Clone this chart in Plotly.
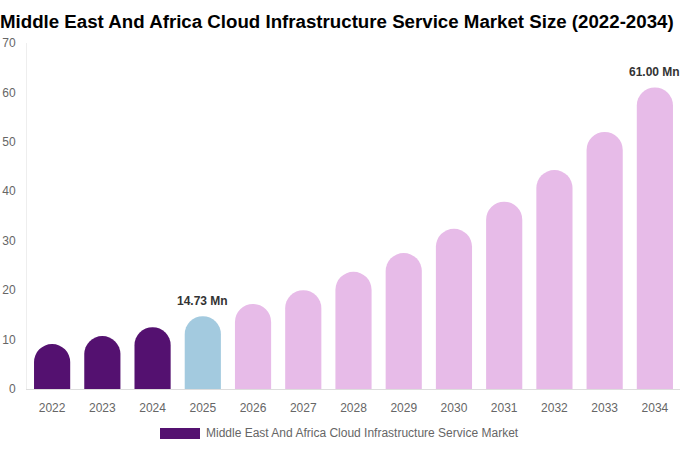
import plotly.graph_objects as go

# market size by year (USD Mn)
years = ["2022", "2023", "2024", "2025", "2026", "2027", "2028",
         "2029", "2030", "2031", "2032", "2033", "2034"]
values = [9.1, 10.7, 12.5, 14.73, 17.2, 20.0, 23.7, 27.5, 32.4, 37.9, 44.3, 52.0, 61.0]
bar_colors = ["#541170"] * 3 + ["#a3cadf"] + ["#e7bbe8"] * 9
label_years = ["2025", "2034"]
label_texts = ["14.73 Mn", "61.00 Mn"]
series_name = "Middle East And Africa Cloud Infrastructure Service Market"

font = "Liberation Sans, Arial, sans-serif"

fig = go.Figure()
fig.add_trace(go.Bar(
    x=years, y=values, name=series_name,
    marker=dict(color=bar_colors, cornerradius=18, line=dict(width=0)),
    showlegend=False,
))

# value labels above 2025 and 2034 (category index, numeric-looking names get read as indices)
for yr, txt in zip(label_years, label_texts):
    i = years.index(yr)
    fig.add_annotation(x=i, y=values[i], text="<b>" + txt + "</b>",
                       showarrow=False, yanchor="bottom", yshift=6,
                       font=dict(family=font, size=12, color="#333333"))

# custom legend: wide swatch + text
fig.add_shape(type="rect", xref="paper", yref="paper",
              x0=(160 - 27) / 653, x1=(200 - 27) / 653,
              y0=-(439 - 389) / 346, y1=-(428 - 389) / 346,
              fillcolor="#541170", line=dict(width=0))
fig.add_annotation(xref="paper", yref="paper", x=(204 - 27) / 653, y=-(433 - 389) / 346,
                   xanchor="left", yanchor="middle", showarrow=False, text=series_name,
                   font=dict(family=font, size=12, color="#666666"))

fig.update_layout(
    width=680, height=450,
    margin=dict(l=27, r=0, t=43, b=61),
    paper_bgcolor="white", plot_bgcolor="white",
    bargap=0.28,
    title=dict(text="<b>Middle East And Africa Cloud Infrastructure Service Market Size (2022-2034)</b>",
               x=0, xref="container", xanchor="left",
               y=1 - 21 / 450, yref="container", yanchor="middle",
               font=dict(family=font, size=18.7, color="#000000")),
    font=dict(family=font, size=12, color="#666666"),
)
fig.update_xaxes(type="category", range=[-0.5, len(years) - 0.5],
                 showline=True, linecolor="#dddddd", linewidth=1, showgrid=False,
                 ticks="outside", ticklen=8, tickcolor="rgba(0,0,0,0)",
                 tickfont=dict(size=12, color="#666666"))
fig.update_yaxes(range=[0, 70], dtick=10, showline=True, linecolor="#eeeeee", linewidth=1,
                 showgrid=False, zeroline=False,
                 ticks="outside", ticklen=8, tickcolor="rgba(0,0,0,0)",
                 tickfont=dict(size=12, color="#666666"))

# drop the default page margin so the figure sits at the window's corner
fig.write_html("out.html", config={"displayModeBar": False},
               post_script="document.body.style.margin='0';")
